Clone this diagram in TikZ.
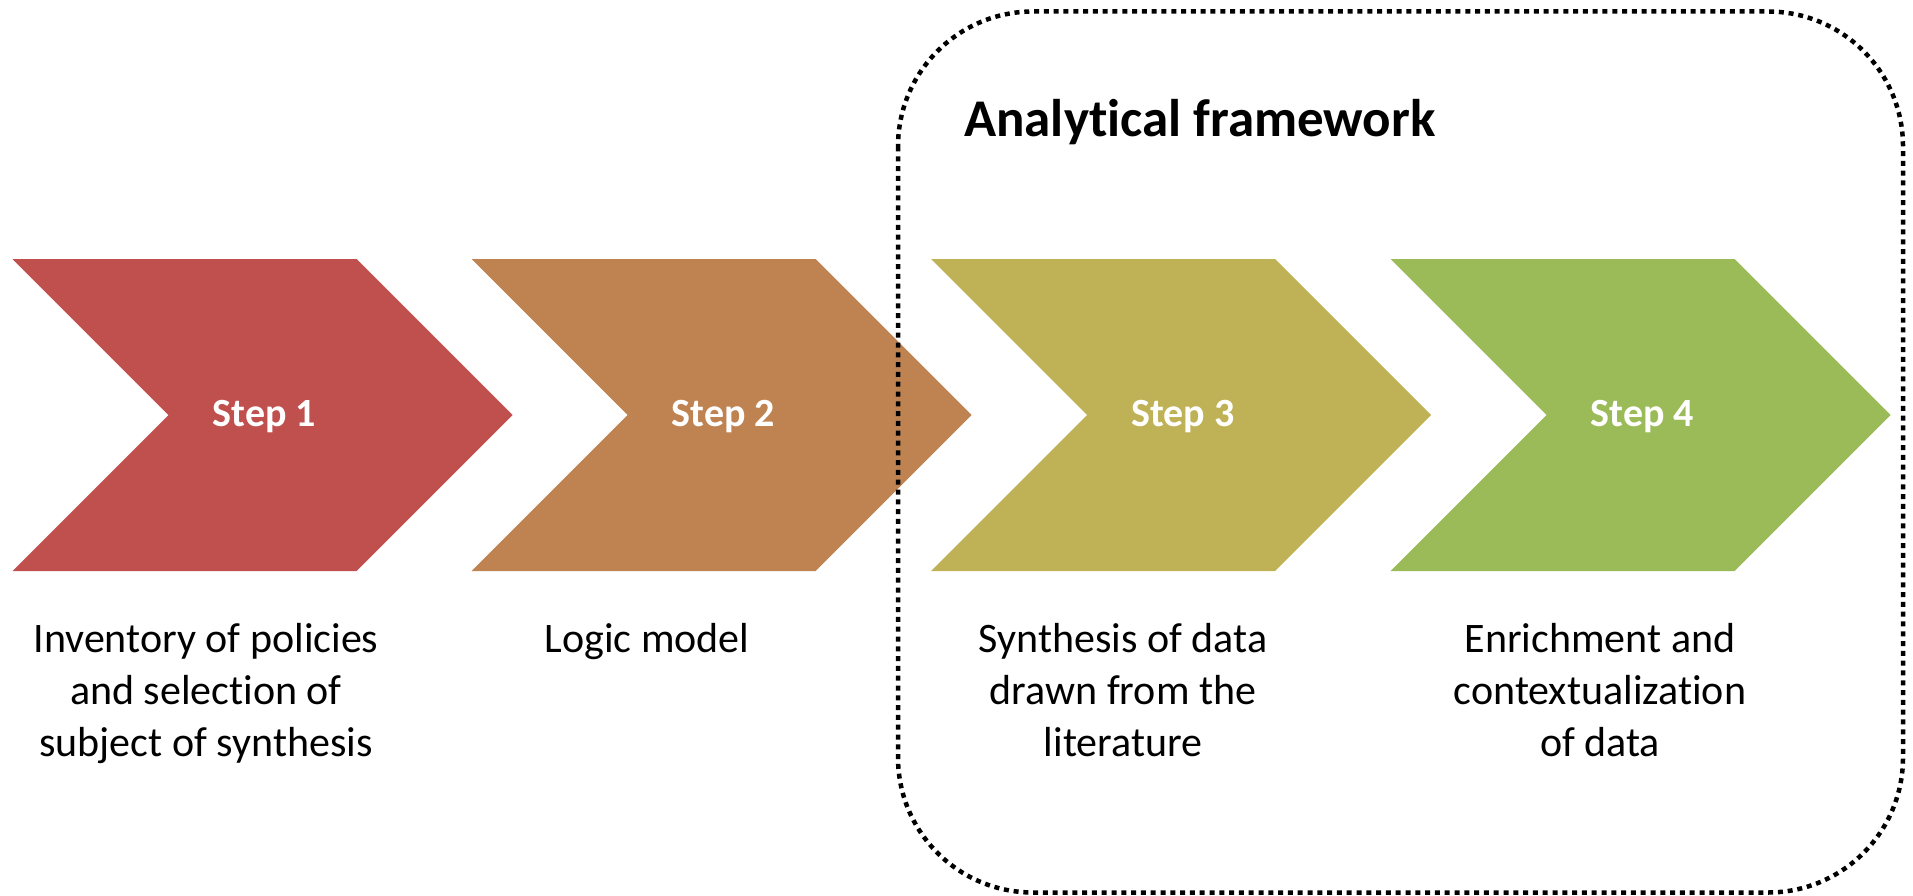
\documentclass[tikz,border=0pt]{standalone}
\usepackage{fontspec}
\setmainfont{Carlito}[Ligatures=NoCommon]
\definecolor{cA}{HTML}{C0504D}
\definecolor{cB}{HTML}{BF8352}
\definecolor{cC}{HTML}{BFB256}
\definecolor{cD}{HTML}{9BBB59}
\begin{document}
\begin{tikzpicture}[x=1pt,y=-1pt,
  steplabel/.style={text=white,font=\bfseries\fontsize{40}{48}\selectfont,inner sep=0pt,anchor=base},
  desc/.style={align=center,font=\fontsize{42}{52}\selectfont,inner sep=0pt,anchor=base},
  frame/.style={line width=4.5pt,dash pattern=on 5pt off 4.8pt,rounded corners=135pt}]
\useasboundingbox (0,0) rectangle (1913,896);
\foreach \l/\c/\n in {12.5/cA/1,471.5/cB/2,931/cC/3,1390.5/cD/4}{
  \fill[\c] (\l,259) -- ++(344,0) -- ++(156,156) -- ++(-156,156) -- ++(-344,0) -- ++(156,-156) -- cycle;
  \node[steplabel] (s\n) at (\l+252,426) {Step \n};
}
\draw[frame] (898,11.5) rectangle (1903,892.5);
\node[font=\bfseries\fontsize{53}{64}\selectfont,anchor=base west,inner sep=0pt] (title) at (964,137) {Analytical framework};
\node[desc] (d1) at (206,756) {Inventory of policies\\and selection of\\subject of synthesis};
\node[desc] (d2) at (647,652) {Logic model};
\node[desc] (d3) at (1123,756) {Synthesis of data\\drawn from the\\literature};
\node[desc] (d4) at (1600,756) {Enrichment and\\contextualization\\of data};
\end{tikzpicture}
\end{document}
